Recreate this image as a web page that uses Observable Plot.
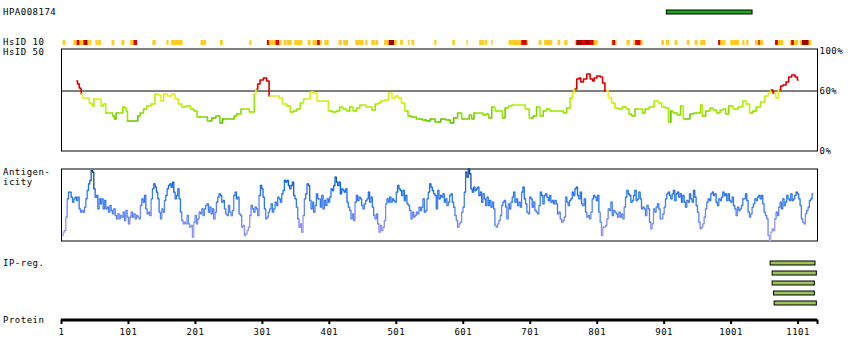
<!DOCTYPE html>
<html><head><meta charset="utf-8">
<script src="https://cdn.jsdelivr.net/npm/d3@7"></script>
<script src="https://cdn.jsdelivr.net/npm/@observablehq/plot@0.6"></script>
<style>
html,body{margin:0;padding:0;background:#fff;}
#chart{position:relative;width:850px;height:360px;overflow:hidden;font-family:"DejaVu Sans Mono",monospace;font-size:9px;letter-spacing:0.5px;color:#000;background:#fff;}
#chart svg{position:absolute;left:0;overflow:visible;}
#chart svg text{letter-spacing:0.5px;}
.lbl{position:absolute;left:3px;line-height:9px;white-space:nowrap;}
</style></head><body><div id="chart"></div>
<script>
// ---------------- data ----------------
const proteinLength = 1130;
const antigenName = "HPA008174";
const antigenStart = 905;
const antigenEnd = 1033;

const hsid10Start = [4,20,25,29,35,38,41,45,53,57,77,92,105,110,138,159,166,210,214,239,283,309,312,322,327,334,339,350,359,370,377,384,388,395,416,423,441,456,465,471,484,491,499,508,520,525,559,586,607,626,634,644,670,683,689,697,715,723,743,753,769,771,778,785,790,797,823,825,829,846,856,859,867,898,905,918,936,948,956,983,986,989,991,1001,1019,1025,1038,1043,1045,1068,1072,1090,1092,1096,1105,1108,1118];
const hsid10End   = [7,25,29,35,38,41,43,46,55,60,80,95,110,114,142,161,182,213,217,242,285,312,322,327,330,337,345,358,361,373,384,388,390,400,420,429,452,458,469,474,491,499,502,511,521,528,561,589,608,632,637,645,682,689,697,698,718,734,746,757,771,778,785,790,797,802,825,829,830,850,859,867,869,901,909,921,939,951,963,986,988,990,993,1013,1021,1027,1043,1045,1049,1072,1079,1092,1096,1101,1108,1118,1121];
const hsid10Level = ["Y","Y","R","Y","R","D","Y","Y","Y","Y","Y","Y","Y","R","Y","Y","Y","Y","Y","Y","Y","R","Y","R","Y","Y","Y","Y","Y","Y","Y","R","Y","Y","Y","Y","Y","Y","Y","Y","Y","D","Y","Y","Y","Y","Y","Y","Y","Y","Y","Y","Y","Y","R","Y","Y","Y","Y","Y","Y","D","R","D","R","Y","Y","R","Y","Y","Y","R","Y","Y","Y","Y","Y","Y","Y","R","Y","Y","Y","Y","Y","Y","Y","R","Y","R","Y","Y","R","Y","Y","D","Y"];

const hsid50Res = [24,26,29,30,31,34,41,44,46,49,50,59,61,66,68,76,79,81,84,91,94,96,99,100,114,116,121,126,131,138,143,148,151,156,163,168,173,178,183,191,196,201,206,215,223,228,235,240,243,258,260,265,273,280,283,288,290,293,295,300,305,310,312,325,327,335,340,345,350,355,360,365,370,375,380,385,397,402,409,414,419,424,429,434,439,444,449,462,467,472,477,479,487,492,497,502,506,511,516,521,526,536,544,549,554,564,571,579,584,589,596,601,609,611,616,618,628,633,637,641,646,651,658,661,666,671,676,691,696,703,708,713,718,723,728,733,748,753,758,763,765,768,773,775,778,783,788,793,795,798,803,808,810,815,820,825,830,835,842,847,850,855,860,867,870,875,882,890,895,900,905,910,912,917,924,927,932,937,942,949,954,957,959,967,972,977,982,987,992,994,1001,1007,1016,1021,1026,1031,1036,1041,1049,1054,1059,1061,1066,1069,1074,1076,1081,1085,1089,1094,1099,1101];
const hsid50Pct = [70,67,63,62,57,53,53,48,47,45,52,52,45,47,38,38,35,32,38,38,44,43,40,30,30,35,38,42,45,47,57,56,50,57,55,57,52,47,44,45,42,40,34,34,30,33,35,28,32,32,35,37,42,42,39,39,57,62,67,71,73,70,55,55,53,47,45,39,40,42,48,52,52,59,58,50,50,40,39,40,44,42,40,44,40,43,46,44,41,47,48,50,51,58,53,55,53,48,40,35,34,32,31,30,32,29,32,31,28,33,38,32,32,36,32,38,38,36,37,33,44,40,40,33,43,45,46,46,42,33,35,44,35,40,42,40,40,38,43,53,58,62,72,73,69,72,77,72,70,73,75,74,68,60,53,48,43,42,44,42,37,35,42,42,38,42,44,50,48,44,43,29,40,38,36,45,32,32,37,38,38,46,35,40,43,41,38,41,42,37,45,42,44,50,47,38,40,44,49,55,58,61,58,53,61,65,66,69,74,76,74,71];

// antigenicity score read every ~2 residues, starting at residue 2.5
const antigenicityFirst = 2.5;
const antigenicityStep = 1.99;
const antigenicityScore = [
20,30,35,75,130,150,150,135,120,130, 135,125,135,100,90,95,90,105,130,155, 175,185,215,210,160,135,140,100,130,115, 130,100,125,100,105,90,110,95,85,100,
80,70,85,70,80,75,90,65,95,75, 55,75,90,75,85,70,80,75,70,110, 130,120,140,100,85,90,80,130,160,175, 165,150,130,90,70,100,90,125,140,160,
170,175,165,180,150,130,140,160,130,90, 65,55,60,55,80,55,45,50,15,60, 80,55,70,90,85,100,80,100,110,115, 90,105,85,100,70,90,120,135,145,140,
120,125,100,85,80,110,90,80,95,140, 150,130,135,85,80,45,50,20,25,35, 45,80,110,100,90,105,100,80,140,170, 160,135,100,70,75,90,100,115,90,100,
120,110,135,130,120,145,155,185,180,185, 170,160,170,180,140,130,105,70,45,55, 30,80,130,145,175,170,125,100,120,90, 110,145,130,130,105,140,100,125,110,130,
120,135,160,155,170,195,180,170,180,145, 160,155,150,160,120,105,95,70,85,65, 120,140,125,135,130,110,100,115,125,130, 150,120,135,105,80,70,85,55,30,50,
35,45,65,115,130,120,135,120,130,125, 120,150,170,160,155,140,155,125,140,115, 110,95,70,90,75,80,90,85,105,95, 105,130,90,95,130,150,175,165,155,145,
140,100,
155,130,140,135,145,120,130,110,120,140, 145,120,105,80,65,45,55,60,90,105, 150,210,195,220,205,160,150,165,155,160, 165,140,150,120,145,130,110,135,110,125,
105,120,100,50,45,55,65,80,110,120, 125,105,70,115,100,120,135,150,120,130, 110,120,105,150,165,130,115,90,85,135, 130,105,120,95,90,85,110,150,140,115,
140,145,135,125,140,120,125,115,125,115, 85,90,70,60,65,75,135,120,110,125, 130,150,140,160,165,140,130,150,115,110, 130,90,75,80,70,90,130,140,135,125,
140,90,60,20,45,45,50,70,100,95, 120,80,95,90,85,75,90,75,85,70, 105,135,155,145,140,120,125,140,155,125, 130,150,130,100,105,100,80,110,100,60,
40,55,100,90,105,115,100,70,70,85, 105,130,145,150,140,130,145,155,125,145, 150,135,145,120,140,120,105,125,120,145, 130,120,155,135,110,90,60,40,45,55,
75,100,120,130,125,145,150,140,145,120, 110,130,125,135,150,140,145,125,145,125, 120,135,110,100,80,105,95,100,110,130, 130,145,125,90,75,85,105,115,130,125,
135,140,130,140,115,90,80,70,20,5, 30,40,35,70,90,80,105,120,100,130, 110,120,140,130,125,145,125,130,140,150, 145,130,110,70,60,55,85,95,105,125,
130,145];

const ipRow   = [1, 2, 3, 4, 5];
const ipStart = [1060, 1063, 1063, 1065, 1066];
const ipEnd   = [1127, 1129, 1126, 1126, 1129];

const tickLabels = [1, 101, 201, 301, 401, 501, 601, 701, 801, 901, 1001, 1101];
const pctTicks = [0, 60, 100];

const rowLabels = [
  {text: "HPA008174", top: 8.2},
  {text: "HsID 10", top: 37.8},
  {text: "HsID 50", top: 47.8},
  {text: "Antigen-", top: 168.2},
  {text: "icity", top: 178.2},
  {text: "IP-reg.", top: 259.2},
  {text: "Protein", top: 315.5}
];

// ---------------- build ----------------
const W = 850, ML = 61, MR = 33;
const xOpt = {domain: [1, proteinLength], range: [ML, W - MR], axis: null};
const st = {fontFamily: "DejaVu Sans Mono", fontSize: "9px", background: "transparent", overflow: "visible", color: "#000"};
const chart = document.getElementById("chart");
function place(el, top) { el.style.top = top + "px"; chart.appendChild(el); }

// antigen bar
place(Plot.plot({
  width: W, height: 14, marginTop: 4, marginBottom: 6, marginLeft: ML, marginRight: MR,
  x: xOpt, y: {domain: [antigenName], axis: null, padding: 0}, style: st,
  marks: [Plot.barX([{name: antigenName, a: antigenStart, b: antigenEnd}],
    {x1: "a", x2: "b", y: "name", fill: "#1ea51e", stroke: "#000", strokeWidth: 1})]
}), 6);

// HsID 10 strip
const hsid10 = hsid10Start.map((s, i) => ({s, e: hsid10End[i], level: hsid10Level[i], row: "HsID 10"}));
place(Plot.plot({
  width: W, height: 12, marginTop: 4, marginBottom: 3, marginLeft: ML, marginRight: MR,
  x: xOpt, y: {domain: ["HsID 10"], axis: null, padding: 0},
  color: {domain: ["Y", "R", "D"], range: ["#ffcc22", "#dd0000", "#a00000"]},
  style: st,
  marks: [Plot.barX(hsid10, {x1: "s", x2: "e", y: "row", fill: "level", insetLeft: -0.4, insetRight: -0.4})]
}), 36);

// HsID 50 panel
const hsid50 = hsid50Res.map((r, i) => ({r, v: hsid50Pct[i]}));
place(Plot.plot({
  width: W, height: 120, marginTop: 8.5, marginBottom: 9.5, marginLeft: ML, marginRight: MR,
  x: xOpt, y: {domain: [0, 102]},
  color: {type: "linear", domain: [28, 36, 44, 52, 59, 60.5, 61, 100],
          range: ["#5cbf00", "#86dc00", "#aaf000", "#d4f018", "#f0f02a", "#f0f02a", "#dd0000", "#dd0000"]},
  style: st,
  marks: [
    Plot.frame({stroke: "#000", strokeWidth: 1}),
    Plot.ruleY([60], {stroke: "#000", strokeWidth: 1}),
    Plot.line(hsid50, {x: "r", y: "v", stroke: "v", z: null, curve: "step", strokeWidth: 1.6}),
    Plot.axisY({anchor: "right", ticks: pctTicks, tickSize: 0, tickPadding: 2, tickFormat: d => d + "%", label: null})
  ]
}), 40);

// antigenicity panel
const antigen = antigenicityScore.map((s, i) => ({r: antigenicityFirst + antigenicityStep * i, s}));
place(Plot.plot({
  width: W, height: 90, marginTop: 8.5, marginBottom: 9.5, marginLeft: ML, marginRight: MR,
  x: xOpt, y: {domain: [3.5, 219.5], axis: null},
  color: {type: "linear", domain: [5, 60, 110, 165, 220],
          range: ["#b4a0ff", "#7c8cf2", "#3d80f4", "#146cf0", "#0a3f92"]},
  style: st,
  marks: [
    Plot.frame({stroke: "#000", strokeWidth: 1}),
    Plot.line(antigen, {x: "r", y: "s", stroke: "s", z: null, curve: "step", strokeWidth: 1.3})
  ]
}), 160);

// IP regions
const ip = ipRow.map((row, i) => ({row, a: ipStart[i], b: ipEnd[i]}));
place(Plot.plot({
  width: W, height: 56, marginTop: 5.5, marginBottom: 0.5, marginLeft: ML, marginRight: MR,
  x: xOpt, y: {domain: ipRow, axis: null, padding: 0}, style: st,
  marks: [Plot.barX(ip, {x1: "a", x2: "b", y: "row", fill: "#9cc35c", stroke: "#000", strokeWidth: 1, insetBottom: 6})]
}), 255);

// protein axis
place(Plot.plot({
  width: W, height: 45, marginTop: 5, marginBottom: 25.5, marginLeft: ML, marginRight: MR,
  x: {domain: [1, proteinLength], range: [ML, W - MR]}, y: {domain: [0, 1], axis: null}, style: st,
  marks: [
    Plot.ruleY([0], {x1: 1, x2: proteinLength, stroke: "#000", strokeWidth: 3}),
    Plot.axisX({anchor: "bottom", ticks: [...tickLabels, proteinLength], tickSize: 4.5, strokeWidth: 2, tickPadding: 4,
      tickFormat: d => d === proteinLength ? "" : String(d), label: null})
  ]
}), 300);

// left labels
for (const l of rowLabels) {
  const d = document.createElement("div");
  d.className = "lbl"; d.style.top = l.top + "px"; d.textContent = l.text;
  chart.appendChild(d);
}
</script></body></html>
